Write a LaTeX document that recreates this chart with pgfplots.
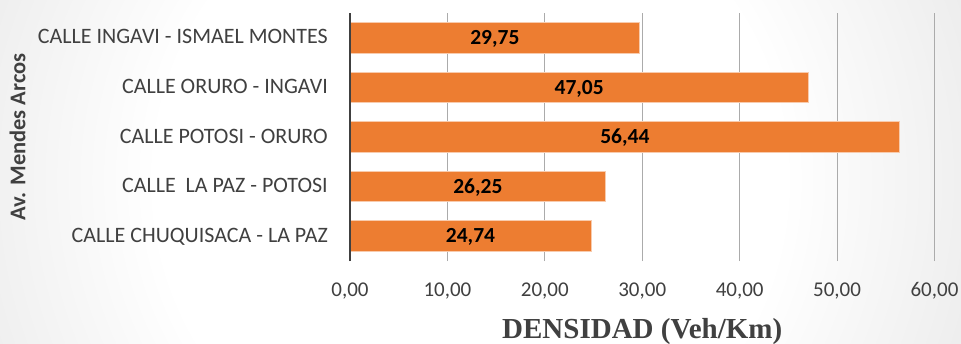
\documentclass[border=0pt]{standalone}
\usepackage{fontspec}
\usepackage{pgfplots}
\usepackage{pgfplotstable}
\pgfplotsset{compat=1.18}
\setmainfont{Carlito}
\newfontfamily\titlefont{Liberation Serif}

\definecolor{barorange}{HTML}{ED7D31}
\definecolor{baredge}{HTML}{F8CBAD}
\definecolor{txt}{HTML}{404040}
\definecolor{gridc}{HTML}{ABABAB}

\pgfdeclareradialshading{bgshade}{\pgfpoint{0bp}{0bp}}{%
  color(0bp)=(white); color(14bp)=(white); color(50bp)=(black!27)}

% density per street segment (Veh/Km)
\pgfplotstableread{
y v
0 24.74
1 26.25
2 56.44
3 47.05
4 29.75
}\density

\begin{document}
\begin{tikzpicture}[x=1pt,y=1pt]
\begin{scope}
  \clip (-350,-82) rectangle (611,261);
  \shade[shading=bgshade] (120,81) circle (560);
\end{scope}
\begin{axis}[
  at={(0,0)}, anchor=south west,
  scale only axis,
  width=584.5pt, height=248pt,
  xmin=0, xmax=60, ymin=-0.5, ymax=4.5,
  enlargelimits=false,
  clip=false,
  axis lines*=left,
  x axis line style={draw=none},
  y axis line style={draw=none},
  major tick length=0pt,
  xmajorgrids,
  grid style={draw=gridc, line width=1pt},
  xtick={0,10,...,60},
  ytick={0,1,2,3,4},
  yticklabels={CALLE CHUQUISACA - LA PAZ, CALLE\ \ LA PAZ - POTOSI, CALLE POTOSI - ORURO, CALLE ORURO - INGAVI, CALLE INGAVI - ISMAEL MONTES},
  /pgf/number format/.cd, fixed, fixed zerofill, precision=2, use comma, assume math mode=true,
  /pgfplots/.cd,
  xticklabel style={font=\fontsize{21}{24}\selectfont, text=txt, anchor=base, inner sep=0pt, yshift=-35pt},
  yticklabel style={font=\fontsize{22}{24}\selectfont, text=txt, anchor=base east, inner sep=0pt, xshift=-22pt, yshift=-6pt},
  xlabel={DENSIDAD (Veh/Km)},
  every axis x label/.style={at={(axis description cs:0.5,0)}, anchor=base, yshift=-77pt,
    font=\titlefont\bfseries\fontsize{29}{32}\selectfont, text=txt},
  ylabel={Av. Mendes Arcos},
  every axis y label/.style={at={(axis description cs:-0.5689,0.5)}, anchor=center, rotate=90,
    font=\bfseries\fontsize{22.5}{24}\selectfont, text=txt},
]
\addplot[xbar, bar width=30.6pt, fill=barorange, draw=baredge, line width=1pt]
  table[x=v, y=y] {\density};
\addplot[draw=none, mark=none, nodes near coords={\pgfmathprintnumber[fixed,fixed zerofill,precision=2,use comma,assume math mode=true]{\pgfplotspointmeta}},
  point meta=explicit,
  every node near coord/.style={anchor=base, yshift=-6.7pt, font=\bfseries\fontsize{21.5}{24}\selectfont, text=black}]
  table[x expr=\thisrow{v}/2, y=y, meta=v] {\density};
% value axis baseline, drawn over the bars
\draw[txt, line width=2.5pt] (axis cs:0,-0.5) -- (axis cs:0,4.5);
\end{axis}
\pgfresetboundingbox
\useasboundingbox (-350,-82) rectangle (611,261);
\end{tikzpicture}
\end{document}
